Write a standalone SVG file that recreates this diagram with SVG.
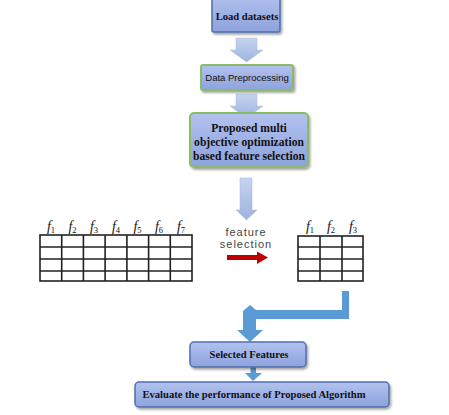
<svg xmlns="http://www.w3.org/2000/svg" width="449" height="415" viewBox="0 0 449 415">
<defs>
<linearGradient id="bx" x1="0" y1="0" x2="0" y2="1">
<stop offset="0" stop-color="#b4c3ee"/><stop offset="0.5" stop-color="#9fb2e6"/><stop offset="1" stop-color="#8ea3dc"/>
</linearGradient>
<linearGradient id="ar" x1="0" y1="0" x2="0" y2="1">
<stop offset="0" stop-color="#c5d3ee"/><stop offset="1" stop-color="#9db4e0"/>
</linearGradient>
<filter id="sh" x="-10%" y="-20%" width="125%" height="150%">
<feDropShadow dx="1.5" dy="2" stdDeviation="1.2" flood-color="#000" flood-opacity="0.35"/>
</filter>
</defs>
<style>
.bxb{fill:url(#bx);stroke:#4f6fae;stroke-width:1.5}
.bxg{fill:url(#bx);stroke:#8cbb65;stroke-width:2}
.t{font-family:"Liberation Serif",serif;font-weight:bold;font-size:10.6px;fill:#111;text-anchor:middle}
.tp{font-size:11.6px}
.s{font-family:"Liberation Sans",Arial,sans-serif;font-size:9.5px;fill:#111;text-anchor:middle}
.fs{font-family:"Liberation Sans",Arial,sans-serif;font-size:11px;fill:#444;text-anchor:middle;letter-spacing:1px}
.g{stroke:#222;stroke-width:1.6;fill:none}
.f{font-family:"Liberation Serif",serif;font-style:italic;font-size:14px;fill:#111;text-anchor:middle}
.sub{font-size:8.5px;font-style:normal}
.la{fill:url(#ar);stroke:#aabbdd;stroke-width:0.5}
.ba{fill:#5b9bd5}
</style>
<rect width="449" height="415" fill="#fff"/>

<g id="connectors">
<polygon class="la" points="236,38 257,38 257,50 263,50 246.5,62 230,50 236,50"/>
<polygon class="la" points="236,94 257,94 257,106 263,106 246.5,118 230,106 236,106"/>
<polygon class="la" points="240,178 252,178 252,210 257,210 246.5,220 236,210 240,210" fill="#93aee0"/>
<polygon fill="#c00000" points="227,255 257,255 257,251.5 268,257.5 257,264 257,260 227,260"/>
<polygon class="ba" points="342,291 349,291 349,319 256,319 256,330 263,330 250,342 237,330 243,330 243,311 250,305 256,310 342,310"/>
<polygon class="ba" points="250.5,367 256,367 256,373 262,373 253,381 245,373 250.5,373"/>
</g>

<g id="n-load">
<rect class="bxb" x="212" y="-6" width="68" height="38" rx="2" filter="url(#sh)"/>
<text class="t" x="247" y="20">Load datasets</text>
</g>

<g id="n-prep">
<rect class="bxg" x="201" y="65" width="92" height="25" rx="2" filter="url(#sh)"/>
<text class="s" x="247" y="80.5">Data Preprocessing</text>
</g>

<g id="n-proposed">
<rect class="bxg" x="190" y="113" width="118" height="54" rx="4" filter="url(#sh)"/>
<text class="t tp" x="249" y="132">Proposed multi</text>
<text class="t tp" x="249" y="146">objective optimization</text>
<text class="t tp" x="249" y="160">based feature selection</text>
</g>

<g id="n-table-all">
<rect class="g" x="40" y="235" width="152" height="46"/>
<path class="g" d="M40 247H192M40 259H192M40 271H192M61.7 235V281M83.4 235V281M105.1 235V281M126.9 235V281M148.6 235V281M170.3 235V281"/>
<text class="f" x="51" y="231">f<tspan class="sub" dy="2">1</tspan></text>
<text class="f" x="72.5" y="231">f<tspan class="sub" dy="2">2</tspan></text>
<text class="f" x="94" y="231">f<tspan class="sub" dy="2">3</tspan></text>
<text class="f" x="116" y="231">f<tspan class="sub" dy="2">4</tspan></text>
<text class="f" x="137.5" y="231">f<tspan class="sub" dy="2">5</tspan></text>
<text class="f" x="159" y="231">f<tspan class="sub" dy="2">6</tspan></text>
<text class="f" x="181" y="231">f<tspan class="sub" dy="2">7</tspan></text>
</g>

<g id="n-label">
<text class="fs" x="246" y="236">feature</text>
<text class="fs" x="246" y="248">selection</text>
</g>

<g id="n-table-sel">
<rect class="g" x="298" y="236" width="65" height="45"/>
<path class="g" d="M298 247H363M298 259H363M298 271H363M320 236V281M342 236V281"/>
<text class="f" x="310" y="231">f<tspan class="sub" dy="2">1</tspan></text>
<text class="f" x="331" y="231">f<tspan class="sub" dy="2">2</tspan></text>
<text class="f" x="353" y="231">f<tspan class="sub" dy="2">3</tspan></text>
</g>

<g id="n-selected">
<rect class="bxb" x="190" y="342" width="116" height="25" rx="4" filter="url(#sh)"/>
<text class="t" x="249" y="358">Selected Features</text>
</g>

<g id="n-evaluate">
<rect class="bxb" x="135" y="382" width="254" height="25" rx="4" filter="url(#sh)"/>
<text class="t" x="254" y="398">Evaluate the performance of Proposed Algorithm</text>
</g>
</svg>
